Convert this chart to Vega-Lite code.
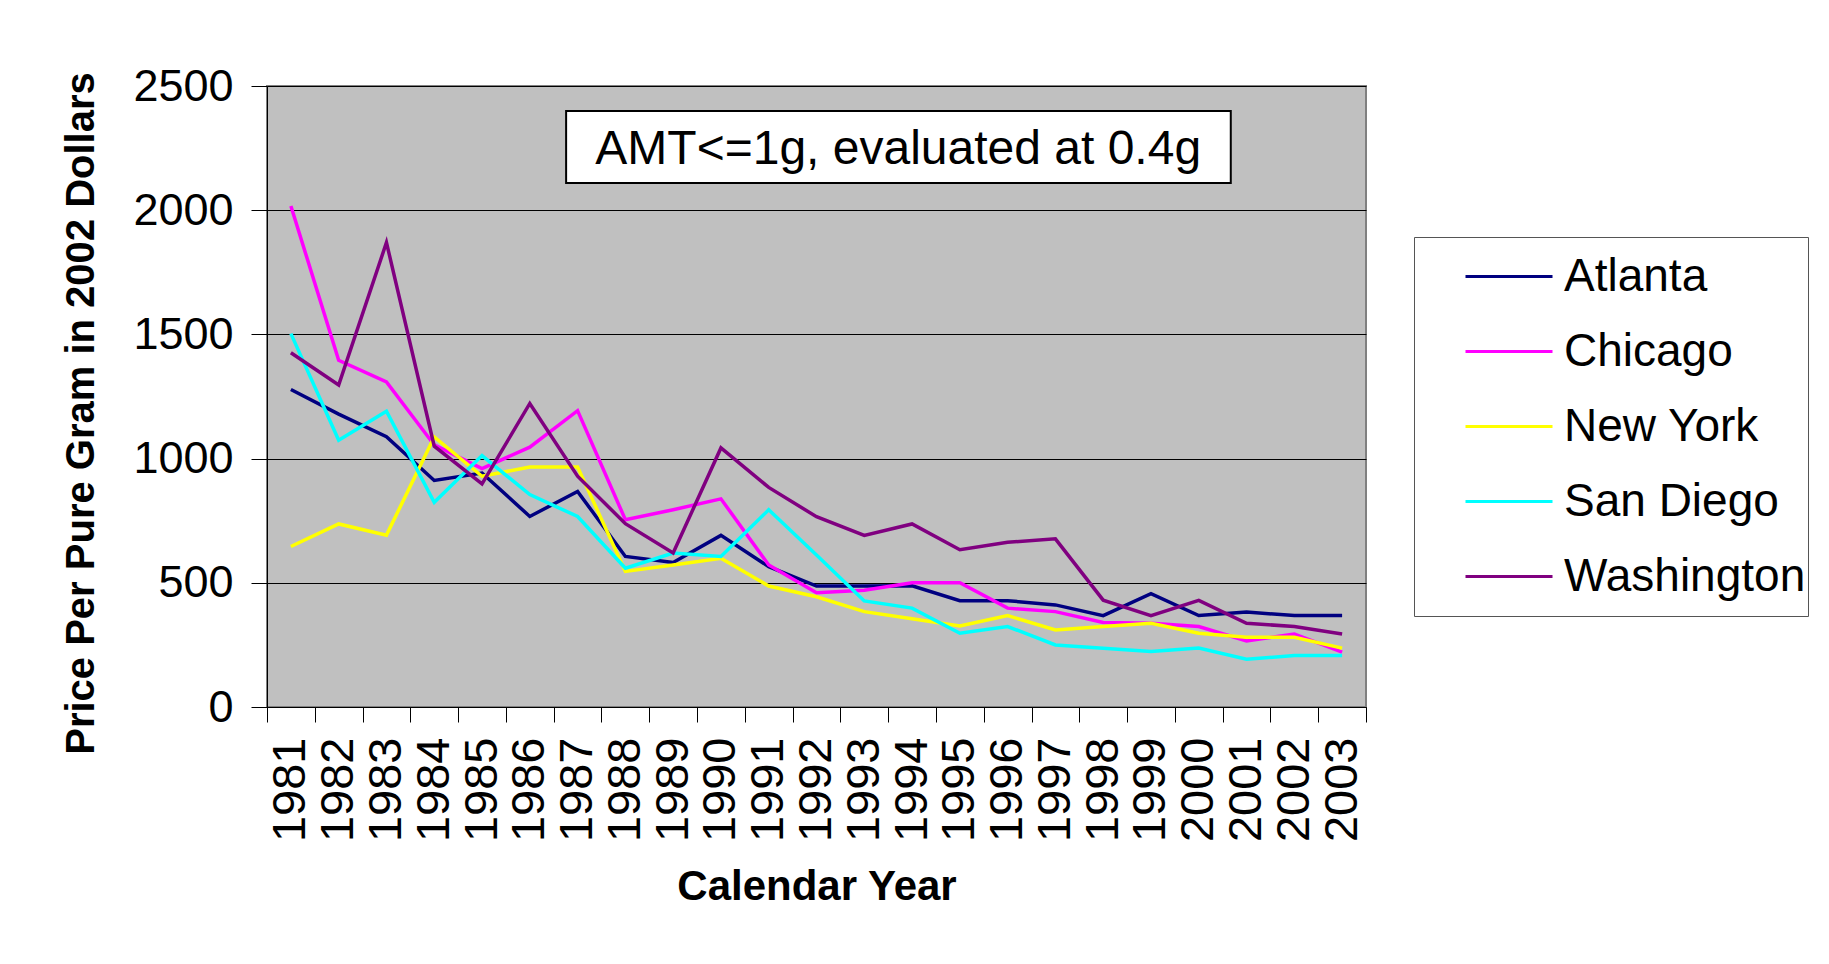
{
  "$schema": "https://vega.github.io/schema/vega-lite/v6.json",
  "width": 1099,
  "height": 621,
  "autosize": "none",
  "padding": {"left": 267, "top": 86, "right": 463, "bottom": 257},
  "background": "white",
  "config": {
    "font": "Liberation Sans",
    "view": {"fill": "#C0C0C0", "stroke": "#808080", "strokeWidth": 2},
    "axis": {"domainColor": "#000000", "tickColor": "#000000", "labelColor": "#000000", "titleColor": "#000000", "domainWidth": 1, "tickWidth": 1}
  },
  "datasets": {
    "prices": [
      {"city": "Atlanta", "year": 1981, "price": 1278}, {"city": "Atlanta", "year": 1982, "price": 1179}, {"city": "Atlanta", "year": 1983, "price": 1088}, {"city": "Atlanta", "year": 1984, "price": 912}, {"city": "Atlanta", "year": 1985, "price": 942}, {"city": "Atlanta", "year": 1986, "price": 767}, {"city": "Atlanta", "year": 1987, "price": 868}, {"city": "Atlanta", "year": 1988, "price": 606}, {"city": "Atlanta", "year": 1989, "price": 582}, {"city": "Atlanta", "year": 1990, "price": 691}, {"city": "Atlanta", "year": 1991, "price": 565}, {"city": "Atlanta", "year": 1992, "price": 487}, {"city": "Atlanta", "year": 1993, "price": 487}, {"city": "Atlanta", "year": 1994, "price": 488}, {"city": "Atlanta", "year": 1995, "price": 428}, {"city": "Atlanta", "year": 1996, "price": 428}, {"city": "Atlanta", "year": 1997, "price": 411}, {"city": "Atlanta", "year": 1998, "price": 368}, {"city": "Atlanta", "year": 1999, "price": 456}, {"city": "Atlanta", "year": 2000, "price": 368}, {"city": "Atlanta", "year": 2001, "price": 382}, {"city": "Atlanta", "year": 2002, "price": 368}, {"city": "Atlanta", "year": 2003, "price": 368},
      {"city": "Chicago", "year": 1981, "price": 2017}, {"city": "Chicago", "year": 1982, "price": 1396}, {"city": "Chicago", "year": 1983, "price": 1309}, {"city": "Chicago", "year": 1984, "price": 1055}, {"city": "Chicago", "year": 1985, "price": 960}, {"city": "Chicago", "year": 1986, "price": 1046}, {"city": "Chicago", "year": 1987, "price": 1193}, {"city": "Chicago", "year": 1988, "price": 754}, {"city": "Chicago", "year": 1989, "price": 794}, {"city": "Chicago", "year": 1990, "price": 838}, {"city": "Chicago", "year": 1991, "price": 572}, {"city": "Chicago", "year": 1992, "price": 460}, {"city": "Chicago", "year": 1993, "price": 470}, {"city": "Chicago", "year": 1994, "price": 500}, {"city": "Chicago", "year": 1995, "price": 500}, {"city": "Chicago", "year": 1996, "price": 398}, {"city": "Chicago", "year": 1997, "price": 384}, {"city": "Chicago", "year": 1998, "price": 340}, {"city": "Chicago", "year": 1999, "price": 337}, {"city": "Chicago", "year": 2000, "price": 324}, {"city": "Chicago", "year": 2001, "price": 266}, {"city": "Chicago", "year": 2002, "price": 294}, {"city": "Chicago", "year": 2003, "price": 221},
      {"city": "New York", "year": 1981, "price": 646}, {"city": "New York", "year": 1982, "price": 737}, {"city": "New York", "year": 1983, "price": 692}, {"city": "New York", "year": 1984, "price": 1087}, {"city": "New York", "year": 1985, "price": 929}, {"city": "New York", "year": 1986, "price": 966}, {"city": "New York", "year": 1987, "price": 966}, {"city": "New York", "year": 1988, "price": 546}, {"city": "New York", "year": 1989, "price": 572}, {"city": "New York", "year": 1990, "price": 599}, {"city": "New York", "year": 1991, "price": 487}, {"city": "New York", "year": 1992, "price": 444}, {"city": "New York", "year": 1993, "price": 384}, {"city": "New York", "year": 1994, "price": 355}, {"city": "New York", "year": 1995, "price": 326}, {"city": "New York", "year": 1996, "price": 368}, {"city": "New York", "year": 1997, "price": 310}, {"city": "New York", "year": 1998, "price": 324}, {"city": "New York", "year": 1999, "price": 337}, {"city": "New York", "year": 2000, "price": 297}, {"city": "New York", "year": 2001, "price": 281}, {"city": "New York", "year": 2002, "price": 281}, {"city": "New York", "year": 2003, "price": 237},
      {"city": "San Diego", "year": 1981, "price": 1503}, {"city": "San Diego", "year": 1982, "price": 1074}, {"city": "San Diego", "year": 1983, "price": 1191}, {"city": "San Diego", "year": 1984, "price": 824}, {"city": "San Diego", "year": 1985, "price": 1012}, {"city": "San Diego", "year": 1986, "price": 855}, {"city": "San Diego", "year": 1987, "price": 767}, {"city": "San Diego", "year": 1988, "price": 559}, {"city": "San Diego", "year": 1989, "price": 620}, {"city": "San Diego", "year": 1990, "price": 606}, {"city": "San Diego", "year": 1991, "price": 794}, {"city": "San Diego", "year": 1992, "price": 612}, {"city": "San Diego", "year": 1993, "price": 427}, {"city": "San Diego", "year": 1994, "price": 398}, {"city": "San Diego", "year": 1995, "price": 297}, {"city": "San Diego", "year": 1996, "price": 324}, {"city": "San Diego", "year": 1997, "price": 250}, {"city": "San Diego", "year": 1998, "price": 237}, {"city": "San Diego", "year": 1999, "price": 223}, {"city": "San Diego", "year": 2000, "price": 237}, {"city": "San Diego", "year": 2001, "price": 192}, {"city": "San Diego", "year": 2002, "price": 207}, {"city": "San Diego", "year": 2003, "price": 207},
      {"city": "Washington", "year": 1981, "price": 1426}, {"city": "Washington", "year": 1982, "price": 1296}, {"city": "Washington", "year": 1983, "price": 1870}, {"city": "Washington", "year": 1984, "price": 1050}, {"city": "Washington", "year": 1985, "price": 898}, {"city": "Washington", "year": 1986, "price": 1222}, {"city": "Washington", "year": 1987, "price": 929}, {"city": "Washington", "year": 1988, "price": 738}, {"city": "Washington", "year": 1989, "price": 620}, {"city": "Washington", "year": 1990, "price": 1043}, {"city": "Washington", "year": 1991, "price": 884}, {"city": "Washington", "year": 1992, "price": 766}, {"city": "Washington", "year": 1993, "price": 691}, {"city": "Washington", "year": 1994, "price": 737}, {"city": "Washington", "year": 1995, "price": 633}, {"city": "Washington", "year": 1996, "price": 663}, {"city": "Washington", "year": 1997, "price": 677}, {"city": "Washington", "year": 1998, "price": 430}, {"city": "Washington", "year": 1999, "price": 368}, {"city": "Washington", "year": 2000, "price": 429}, {"city": "Washington", "year": 2001, "price": 337}, {"city": "Washington", "year": 2002, "price": 324}, {"city": "Washington", "year": 2003, "price": 294}
    ],
    "note": [{"label": "AMT<=1g, evaluated at 0.4g"}]
  },
  "layer": [
    {
      "data": {"name": "prices"},
      "mark": {"type": "line", "strokeWidth": 3.5, "clip": true},
      "encoding": {
        "x": {
          "field": "year", "type": "quantitative",
          "scale": {"domain": [1980.5, 2003.5], "nice": false, "zero": false},
          "axis": {
            "orient": "bottom",
            "values": [1981, 1982, 1983, 1984, 1985, 1986, 1987, 1988, 1989, 1990, 1991, 1992, 1993, 1994, 1995, 1996, 1997, 1998, 1999, 2000, 2001, 2002, 2003],
            "format": "d", "grid": false, "ticks": false, "tickSize": 0, "domain": false,
            "labelAngle": -90, "labelAlign": "right", "labelBaseline": "middle",
            "labelFontSize": 47, "labelPadding": 30, "labelOverlap": false, "labelFlush": false,
            "title": "Calendar Year", "titleFontSize": 42, "titleFontWeight": "bold", "titlePadding": 25
          }
        },
        "y": {
          "field": "price", "type": "quantitative",
          "scale": {"domain": [0, 2500], "nice": false},
          "axis": {
            "orient": "left",
            "values": [0, 500, 1000, 1500, 2000, 2500],
            "format": "d",
            "grid": true, "gridColor": "#000000", "gridOpacity": 1, "gridWidth": 1,
            "ticks": true, "tickSize": 16, "labelFontSize": 45, "labelPadding": 18,
            "title": "Price Per Pure Gram in 2002 Dollars", "titleFontSize": 40, "titleFontWeight": "bold",
            "titlePadding": 31, "titleY": 327
          }
        },
        "color": {
          "field": "city", "type": "nominal",
          "scale": {"domain": ["Atlanta", "Chicago", "New York", "San Diego", "Washington"], "range": ["#000080", "#FF00FF", "#FFFF00", "#00FFFF", "#800080"]},
          "legend": {
            "title": null, "orient": "none", "legendX": 1147, "legendY": 151,
            "strokeColor": "#555555", "fillColor": "#FFFFFF", "padding": 2,
            "symbolType": "stroke", "symbolSize": 7569, "symbolStrokeWidth": 3, "symbolOffset": 48,
            "labelFontSize": 46, "labelOffset": 10, "labelColor": "#000000",
            "clipHeight": 75, "rowPadding": 0, "labelLimit": 400
          }
        }
      }
    },
    {
      "data": {"name": "note"},
      "mark": {"type": "rect", "fill": "#FFFFFF", "stroke": "#000000", "strokeWidth": 2},
      "encoding": {
        "x": {
          "datum": 1986.76, "type": "quantitative",
          "scale": {"domain": [1980.5, 2003.5], "nice": false, "zero": false},
          "axis": {
            "orient": "bottom",
            "values": [1980.5, 1981.5, 1982.5, 1983.5, 1984.5, 1985.5, 1986.5, 1987.5, 1988.5, 1989.5, 1990.5, 1991.5, 1992.5, 1993.5, 1994.5, 1995.5, 1996.5, 1997.5, 1998.5, 1999.5, 2000.5, 2001.5, 2002.5, 2003.5],
            "labels": false, "grid": false, "ticks": true, "tickSize": 15, "domain": true, "title": null
          }
        },
        "x2": {"datum": 2000.67},
        "y": {"datum": 2399, "type": "quantitative", "axis": null},
        "y2": {"datum": 2110}
      }
    },
    {
      "data": {"name": "note"},
      "mark": {"type": "text", "fontSize": 48, "align": "center", "baseline": "middle", "color": "#000000"},
      "encoding": {
        "x": {"datum": 1993.71, "type": "quantitative", "axis": null},
        "y": {"datum": 2242, "type": "quantitative", "axis": null},
        "text": {"field": "label"}
      }
    }
  ],
  "resolve": {"axis": {"x": "independent", "y": "independent"}}
}
